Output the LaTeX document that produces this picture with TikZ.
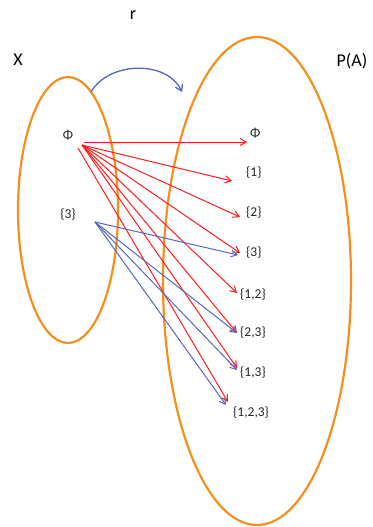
\documentclass[tikz,border=0pt]{standalone}
\usepackage{fontspec}
\setmainfont{Carlito}
\usetikzlibrary{arrows.meta}
\definecolor{orng}{HTML}{F4901E}
\definecolor{rd}{HTML}{FF1E1E}
\definecolor{bl}{HTML}{5468C0}
\tikzset{
  setring/.style={draw=orng,line width=2.2pt},
  lbl/.style={inner sep=1pt,font=\fontsize{13.5}{15}\selectfont,text=black!85},
  big/.style={inner sep=1pt,font=\fontsize{18}{20}\selectfont},
  redarr/.style={draw=rd,line width=1pt,-{Straight Barb[length=6pt,width=7pt]}},
  bluarr/.style={draw=bl,line width=1pt,-{Straight Barb[length=6pt,width=7pt]}}
}
\begin{document}
\begin{tikzpicture}[x=1pt,y=-1pt]
\useasboundingbox (0,0) rectangle (372,527);
\draw[setring] (68,210) ellipse [x radius=50, y radius=133];
\draw[setring] (257,281) ellipse [x radius=94, y radius=244];
\node[big] (r) at (133,15) {r};
\node[big] (X) at (18,60) {X};
\node[big] (PA) at (352,61) {P(A)};
\coordinate (ra) at (91,92);
\coordinate (rb) at (182,92);
\draw[draw=bl,line width=1.3pt,-{Straight Barb[length=6pt,width=8pt]}] (ra) to[out=60,in=115] (rb);
\node[lbl] (lphi) at (68,135) {Φ};
\node[lbl] (l3) at (68,215) {\{3\}};
\node[lbl,anchor=west] (tphi) at (249,133) {Φ};
\node[lbl,anchor=west] (t1) at (245,173) {\{1\}};
\node[lbl,anchor=west] (t2) at (245,213) {\{2\}};
\node[lbl,anchor=west] (t3) at (245,253) {\{3\}};
\node[lbl,anchor=west] (t12) at (239,295) {\{1,2\}};
\node[lbl,anchor=west] (t23) at (239,333) {\{2,3\}};
\node[lbl,anchor=west] (t13) at (239,373) {\{1,3\}};
\node[lbl,anchor=west] (t123) at (232,413) {\{1,2,3\}};
\coordinate (rs) at (82,145);
\coordinate (bs) at (95,222);
\draw[redarr] (84,142) -- ([xshift=-2pt,yshift=-9pt]tphi.west);
\draw[redarr] (rs) -- ([xshift=-13pt,yshift=-8pt]t1.west);
\draw[redarr] (rs) -- ([xshift=-5pt,yshift=-4pt]t2.west);
\draw[redarr] (rs) -- ([xshift=-5pt,yshift=0pt]t3.west);
\draw[redarr] (rs) -- ([xshift=-2pt,yshift=2pt]t12.west);
\draw[redarr] (rs) -- ([xshift=-2pt,yshift=0pt]t23.west);
\draw[redarr] (rs) -- ([xshift=-2pt,yshift=5pt]t13.west);
\draw[redarr] (78,148) -- ([xshift=-4pt,yshift=11pt]t123.west);
\draw[bluarr] (bs) -- ([xshift=-7pt,yshift=-2pt]t3.west);
\draw[bluarr] (bs) -- ([xshift=-2pt,yshift=0pt]t23.west);
\draw[bluarr] (bs) -- ([xshift=-2pt,yshift=3pt]t13.west);
\draw[bluarr] (bs) -- ([xshift=-6pt,yshift=8pt]t123.west);
\end{tikzpicture}
\end{document}
